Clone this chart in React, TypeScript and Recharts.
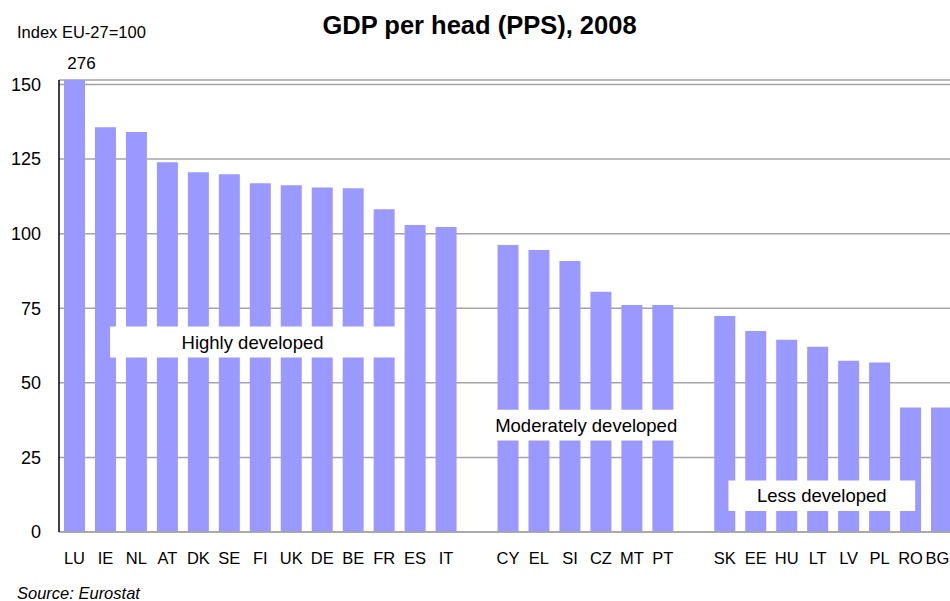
import { BarChart, Bar, XAxis, YAxis, CartesianGrid, ReferenceArea, LabelList } from 'recharts';

const FONT = 'Arial, "Liberation Sans", Helvetica, sans-serif';

// three country groups, one empty slot between groups
const highCountries = ['LU', 'IE', 'NL', 'AT', 'DK', 'SE', 'FI', 'UK', 'DE', 'BE', 'FR', 'ES', 'IT'];
const highValues = [151.5, 135.7, 134.1, 123.9, 120.6, 119.9, 116.9, 116.2, 115.5, 115.2, 108.2, 102.9, 102.2];

const midCountries = ['CY', 'EL', 'SI', 'CZ', 'MT', 'PT'];
const midValues = [96.2, 94.5, 90.8, 80.5, 76.1, 76.1];

const lowCountries = ['SK', 'EE', 'HU', 'LT', 'LV', 'PL', 'RO', 'BG'];
const lowValues = [72.4, 67.4, 64.4, 62.1, 57.4, 56.8, 41.7, 41.7];

// LU is off the scale, its real value is written on top
const barLabels: Record<string, string> = { LU: '276' };

const yTicks = [0, 25, 50, 75, 100, 125, 150];

// white annotation boxes, in slot units (x) and index units (y)
const groupBoxes = [
  { text: 'Highly developed', x1: 1.15, x2: 10.35, y1: 58.5, y2: 68.9 },
  { text: 'Moderately developed', x1: 13.2, x2: 19.85, y1: 30.7, y2: 41.0 },
  { text: 'Less developed', x1: 21.12, x2: 27.15, y1: 7.0, y2: 17.3 },
];

const groups = [
  { names: highCountries, values: highValues },
  { names: midCountries, values: midValues },
  { names: lowCountries, values: lowValues },
];

const data: { pos: number; name: string; value: number; label: string }[] = [];
let slot = 0;
groups.forEach((g, gi) => {
  if (gi > 0) slot += 1;
  g.names.forEach((name, i) => {
    data.push({ pos: slot, name, value: g.values[i], label: barLabels[name] ?? '' });
    slot += 1;
  });
});
const tickPositions = data.map((d) => d.pos);
const lastPos = tickPositions[tickPositions.length - 1];
const nameAt = (p: number) => data.find((d) => d.pos === p)?.name ?? '';

// country tick; the last one sits against the page edge so nudge it in a bit
const CountryTick = (props: any) => {
  const { x, y, payload } = props;
  const nudge = payload.value === lastPos ? -4 : 0;
  return (
    <text x={x + nudge} y={y} dy="0.71em" textAnchor="middle" fontSize={16.5} fill="#000" fontFamily={FONT}>
      {nameAt(payload.value)}
    </text>
  );
};

export default function App() {
  return (
    <div style={{ position: 'fixed', left: 0, top: 0, width: 950, height: 601, overflow: 'hidden', background: '#fff', fontFamily: FONT }}>
      <div style={{ position: 'absolute', left: 0, width: 959, top: 11, textAlign: 'center', fontSize: 25.5, fontWeight: 700, color: '#000', lineHeight: '28px' }}>
        GDP per head (PPS), 2008
      </div>
      <div style={{ position: 'absolute', left: 17, top: 22, fontSize: 16.5, color: '#000', lineHeight: '20px' }}>Index EU-27=100</div>
      <div style={{ position: 'absolute', left: 17, top: 583, fontSize: 16.5, fontStyle: 'italic', color: '#000', lineHeight: '20px' }}>
        Source: Eurostat
      </div>
      <div style={{ position: 'absolute', left: 0, top: 0 }}>
        <BarChart width={957} height={601} data={data} margin={{ top: 80, right: 0, bottom: 38, left: 0 }}>
          <CartesianGrid vertical={false} stroke="#a4a4a4" strokeWidth={1.5} />
          <XAxis
            type="number"
            dataKey="pos"
            domain={[-0.5, 28.5]}
            ticks={tickPositions}
            interval={0}
            height={31}
            tickLine={false}
            tickSize={0}
            tickMargin={20}
            axisLine={{ stroke: '#a4a4a4', strokeWidth: 1.5 }}
            tick={<CountryTick />}
          />
          <YAxis
            type="number"
            width={59}
            domain={[0, 151.5]}
            allowDataOverflow
            ticks={yTicks}
            interval={0}
            tickLine={false}
            tickSize={0}
            tickMargin={18}
            axisLine={{ stroke: '#000', strokeWidth: 1.5 }}
            tick={{ fontSize: 18, fill: '#000', fontFamily: FONT }}
          />
          <Bar dataKey="value" fill="#9999ff" barSize={21} isAnimationActive={false}>
            <LabelList dataKey="label" position="top" offset={11} dx={7} fill="#000" fontSize={17} fontFamily={FONT} />
          </Bar>
          {groupBoxes.map((b) => (
            <ReferenceArea
              key={b.text}
              x1={b.x1}
              x2={b.x2}
              y1={b.y1}
              y2={b.y2}
              fill="#fff"
              fillOpacity={1}
              stroke="none"
              zIndex={450}
              label={{ value: b.text, position: 'center', fill: '#000', fontSize: 18.5, fontFamily: FONT }}
            />
          ))}
        </BarChart>
      </div>
    </div>
  );
}
